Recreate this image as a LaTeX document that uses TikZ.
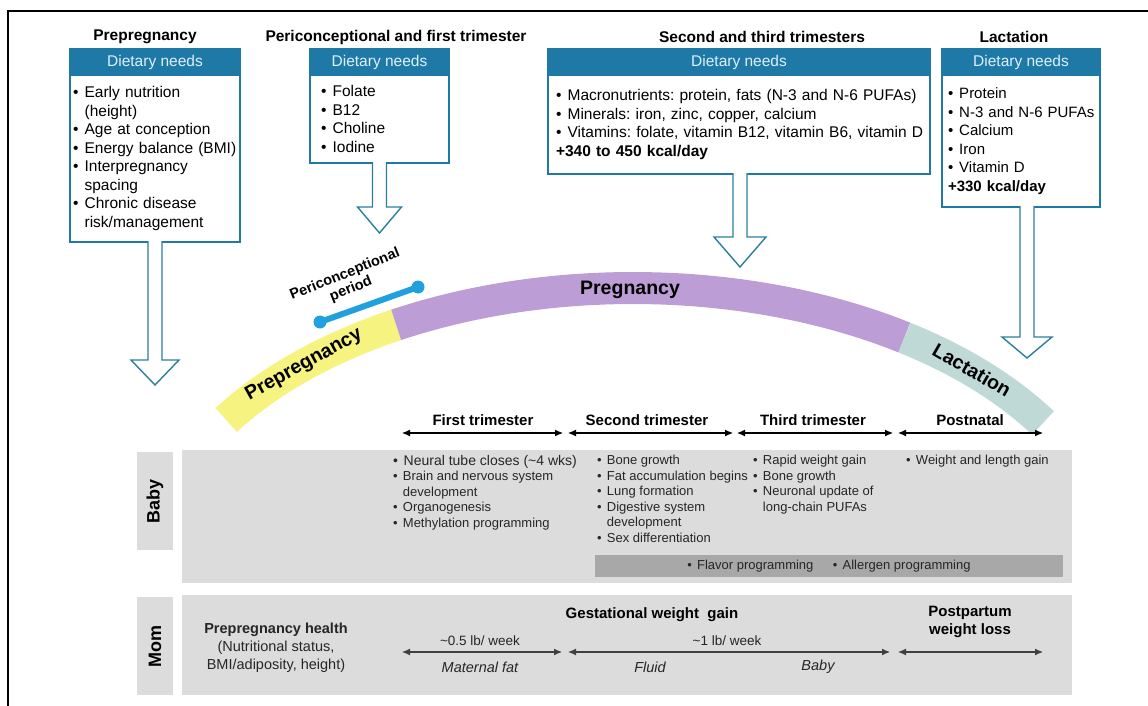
\documentclass[tikz,border=0pt]{standalone}
\usepackage{fontspec}
\setmainfont{Liberation Sans}
\usetikzlibrary{arrows.meta,positioning}
\definecolor{dietblue}{RGB}{31,121,166}
\definecolor{hdrtext}{RGB}{222,240,250}
\definecolor{arrowteal}{RGB}{44,126,156}
\definecolor{preyellow}{RGB}{247,243,128}
\definecolor{pregpurple}{RGB}{188,157,214}
\definecolor{lactgray}{RGB}{191,217,215}
\definecolor{pericblue}{RGB}{32,160,220}
\definecolor{panelgray}{RGB}{220,220,220}
\definecolor{bargray}{RGB}{168,168,168}
\newcommand{\dotb}{\makebox[0.75em][l]{\textbullet}}
\newcommand{\contb}{\hspace*{0.75em}}
\frenchspacing
\tikzset{
  ttl/.style    = {font=\bfseries\fontsize{15.5}{18}\selectfont},
  hdr/.style    = {fill=dietblue, draw=dietblue, line width=1.2pt, text=hdrtext, minimum height=26pt,
                   inner sep=0pt, outer sep=0pt, font=\fontsize{15.5}{18}\selectfont},
  needs/.style  = {draw=dietblue, line width=1.2pt, fill=white, align=left, inner ysep=0pt,
                   outer sep=0pt, font=\fontsize{15.5}{18.5}\selectfont},
  hollow/.style = {draw=arrowteal, fill=white, line width=1.4pt},
  band/.style   = {line width=32pt},
  bandlbl/.style= {font=\bfseries\fontsize{19.5}{22}\selectfont},
  pcl/.style    = {font=\bfseries\fontsize{14.5}{16}\selectfont, align=center},
  phase/.style  = {font=\bfseries\fontsize{15}{18}\selectfont},
  span/.style   = {{Latex[length=8pt,width=7pt]}-{Latex[length=8pt,width=7pt]}, line width=1.1pt},
  gain/.style   = {span, draw=black!75},
  panel/.style  = {fill=panelgray, inner sep=0pt},
  rowlbl/.style = {panel, rotate=90, font=\bfseries\fontsize{18}{20}\selectfont},
  facts/.style  = {anchor=north west, align=left, inner sep=0pt, font=\fontsize{13}{15.5}\selectfont, text=black!85},
  momtxt/.style = {font=\fontsize{14.5}{18}\selectfont, text=black!85},
}
\begin{document}
\begin{tikzpicture}[x=1pt, y=-1pt]
  \useasboundingbox (0,0) rectangle (1148,706);
  \draw[line width=1.3pt] (8,706) -- (8,11) -- (1148,11);

  % Dietary needs boxes
  \node[ttl] (prettl) at (145,37) {Prepregnancy};
  \node[hdr, minimum width=170pt] (prehdr) at (155,62) {Dietary needs};
  \node[needs, below=0pt of prehdr, minimum height=167pt, text width=164pt, inner xsep=3pt] (pre)
    {\dotb Early nutrition\\ \contb(height)\\ \dotb Age at conception\\ \mbox{\dotb Energy balance (BMI)}\\
     \dotb Interpregnancy\\ \contb spacing\\ \dotb Chronic disease\\ \contb risk/management};

  \node[ttl] (perttl) at (396,37) {Periconceptional and first trimester};
  \node[hdr, minimum width=139pt] (perhdr) at (379.5,62) {Dietary needs};
  \node[needs, below=0pt of perhdr, minimum height=88pt, text width=117pt, inner xsep=11pt] (per)
    {\dotb Folate\\ \dotb B12\\ \dotb Choline\\ \dotb Iodine};

  \node[ttl] (secttl) at (762,37) {Second and third trimesters};
  \node[hdr, minimum width=382pt] (sechdr) at (739,62) {Dietary needs};
  \node[needs, below=0pt of sechdr, minimum height=99pt, text width=366pt, inner xsep=8pt] (sec)
    {\mbox{\dotb Macronutrients: protein, fats (N-3 and N-6 PUFAs)}\\ \dotb Minerals: iron, zinc, copper, calcium\\
     \mbox{\dotb Vitamins: folate, vitamin B12, vitamin B6, vitamin D}\\ \textbf{+340 to 450 kcal/day}};

  \node[ttl] (lacttl) at (1014,37) {Lactation};
  \node[hdr, minimum width=158pt] (lachdr) at (1021,62) {Dietary needs};
  \node[needs, below=0pt of lachdr, minimum height=132pt, text width=146pt, inner xsep=6pt,
        font=\fontsize{15}{18.5}\selectfont] (lac)
    {\dotb Protein\\ \mbox{\dotb N-3 and N-6 PUFAs}\\ \dotb Calcium\\ \dotb Iron\\ \dotb Vitamin D\\ \textbf{+330 kcal/day}};

  % hollow arrows down to the timeline
  \draw[hollow] ([xshift=-7pt,yshift=0.8pt]pre.south) -- ++(0,118.8) -- ++(-17,0) -- ++(24,25) -- ++(24,-25) -- ++(-17,0) -- ++(0,-118.8);
  \draw[hollow] ([xshift=-7pt,yshift=0.8pt]per.south) -- ++(0,44.8) -- ++(-15,0) -- ++(22,26) -- ++(22,-26) -- ++(-15,0) -- ++(0,-44.8);
  \draw[hollow] ([xshift=-6pt,yshift=0.8pt]sec.south) -- ++(0,63.8) -- ++(-19,0) -- ++(26,30) -- ++(26,-30) -- ++(-19,0) -- ++(0,-63.8);
  \draw[hollow] ([xshift=-1pt,yshift=0.8pt]lac.south) -- ++(0,130.8) -- ++(-18,0) -- ++(25,21) -- ++(25,-21) -- ++(-18,0) -- ++(0,-130.8);

  % life-stage band
  \draw[band, preyellow] plot[domain=-147.2:-119.3, samples=20] ({633+484*cos(\x)}, {576+288*sin(\x)});
  \draw[band, pregpurple] plot[domain=-119.3:-55.9, samples=50] ({633+484*cos(\x)}, {576+288*sin(\x)});
  \draw[band, lactgray] plot[domain=-55.9:-32.1, samples=20] ({633+484*cos(\x)}, {576+288*sin(\x)});
  \node[bandlbl, rotate=29] (prelbl) at (304,365) {Prepregnancy};
  \node[bandlbl] (preglbl) at (630,290) {Pregnancy};
  \node[bandlbl, rotate=-30] (laclbl) at (972,370) {Lactation};

  % periconceptional period
  \coordinate (pcA) at (320,322);
  \coordinate (pcB) at (418,287);
  \draw[pericblue, line width=6pt] (pcA) -- (pcB);
  \fill[pericblue] (pcA) circle (6.5) (pcB) circle (6.5);
  \node[pcl, rotate=22] (pclbl) at (348,282) {Periconceptional\\period};

  % trimesters
  \node[phase] (ph1) at (483,420) {First trimester};
  \node[phase] (ph2) at (647,420) {Second trimester};
  \node[phase] (ph3) at (813,420) {Third trimester};
  \node[phase] (ph4) at (970,420) {Postnatal};
  \coordinate (s1a) at (402,433); \coordinate (s1b) at (563,433);
  \coordinate (s2a) at (568,433); \coordinate (s2b) at (733,433);
  \coordinate (s3a) at (737,433); \coordinate (s3b) at (893,433);
  \coordinate (s4a) at (898,433); \coordinate (s4b) at (1043,433);
  \draw[span] (s1a) -- (s1b);
  \draw[span] (s2a) -- (s2b);
  \draw[span] (s3a) -- (s3b);
  \draw[span] (s4a) -- (s4b);

  % Baby row
  \node[panel, minimum width=890pt, minimum height=133pt] (babyrow) at (627,516.5) {};
  \node[rowlbl, minimum width=98pt, minimum height=36pt] (babylbl) at (155,501) {Baby};
  \node[facts] (babyA) at (393,455)
    {{\fontsize{14}{15.5}\selectfont\dotb Neural tube closes (\textasciitilde 4 wks)}\\ \dotb Brain and nervous system\\
     \contb development\\ \dotb Organogenesis\\ \dotb Methylation programming};
  \node[facts] (babyB) at (597,455)
    {\dotb Bone growth\\ \dotb Fat accumulation begins\\ \dotb Lung formation\\ \dotb Digestive system\\
     \contb development\\ \dotb Sex differentiation};
  \node[facts] (babyC) at (753,455)
    {\dotb Rapid weight gain\\ \dotb Bone growth\\ \dotb Neuronal update of\\ \contb long-chain PUFAs};
  \node[facts] (babyD) at (906,455) {\dotb Weight and length gain};
  \node[fill=bargray, minimum width=468pt, minimum height=22pt, inner sep=0pt,
        font=\fontsize{13}{15.5}\selectfont, text=black!85] (flav) at (829,566)
    {\dotb Flavor programming\hspace{1.5em}\dotb Allergen programming};

  % Mom row
  \node[panel, minimum width=890pt, minimum height=100pt] (momrow) at (627,645) {};
  \node[rowlbl, minimum width=98pt, minimum height=36pt] (momlbl) at (155,646) {Mom};
  \node[momtxt, align=center] (prehealth) at (276,648)
    {\textbf{Prepregnancy health}\\(Nutritional status,\\BMI/adiposity, height)};
  \node[phase] (gwg) at (652,615) {Gestational weight\ \ gain};
  \node[momtxt, font=\fontsize{13.5}{16}\selectfont] (rate1) at (480,641) {\textasciitilde 0.5 lb/ week};
  \node[momtxt, font=\itshape\fontsize{14.5}{16}\selectfont] (mfat) at (480,667) {Maternal fat};
  \node[momtxt, font=\fontsize{13.5}{16}\selectfont] (rate2) at (727,641) {\textasciitilde 1 lb/ week};
  \node[momtxt, font=\itshape\fontsize{14.5}{16}\selectfont] (fluid) at (650,667) {Fluid};
  \node[momtxt, font=\itshape\fontsize{14.5}{16}\selectfont] (babyw) at (818,667) {Baby};
  \node[phase, align=center] (ppwl) at (970,622) {Postpartum\\weight loss};
  \coordinate (g1a) at (402,652); \coordinate (g1b) at (562,652);
  \coordinate (g2a) at (568,652); \coordinate (g2b) at (890,652);
  \coordinate (g3a) at (898,652); \coordinate (g3b) at (1043,652);
  \draw[gain] (g1a) -- (g1b);
  \draw[gain] (g2a) -- (g2b);
  \draw[gain] (g3a) -- (g3b);
\end{tikzpicture}
\end{document}
